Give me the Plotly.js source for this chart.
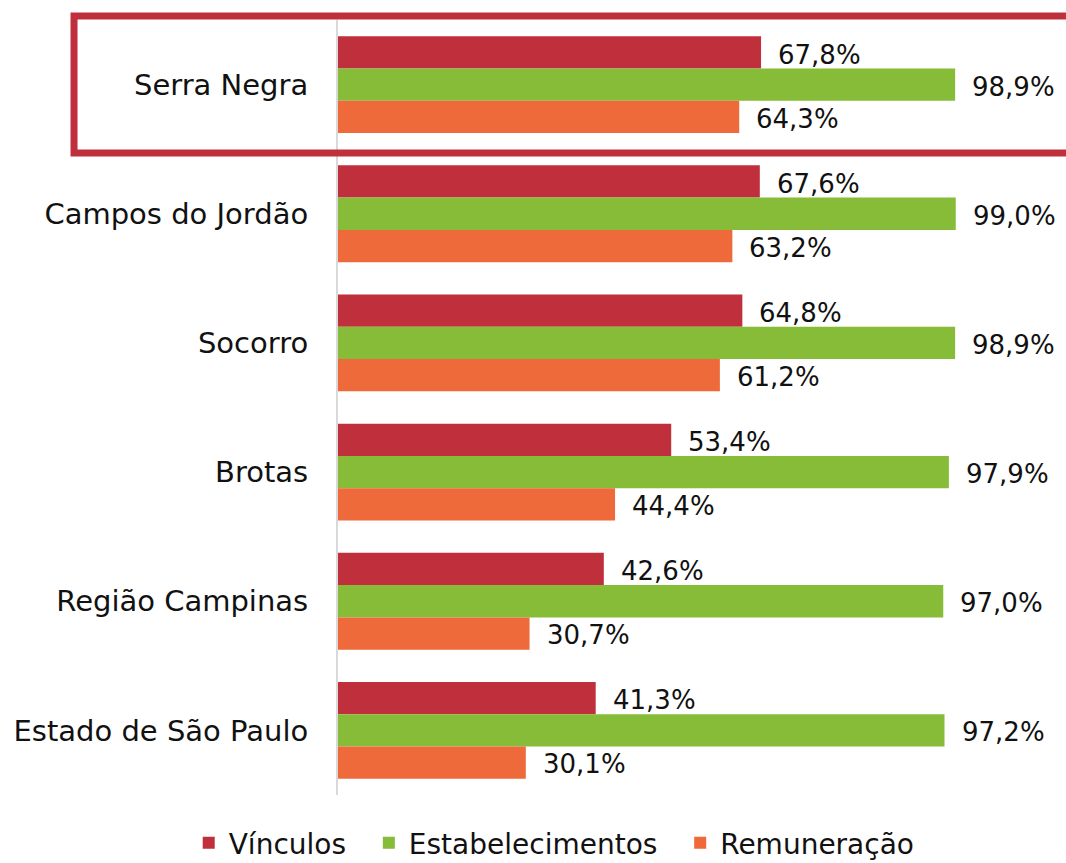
<!DOCTYPE html>
<html>
<head>
<meta charset="utf-8">
<script src="https://cdn.plot.ly/plotly-3.0.1.min.js"></script>
<style>html,body{margin:0;padding:0;background:#fff}#chart{width:1066px;height:863px}</style>
</head>
<body>
<div id="chart"></div>
<script>
const categories = ["Serra Negra", "Campos do Jordão", "Socorro", "Brotas", "Região Campinas", "Estado de São Paulo"];
const seriesNames = ["Vínculos", "Estabelecimentos", "Remuneração"];
const vinculos = [67.8, 67.6, 64.8, 53.4, 42.6, 41.3];
const estabelecimentos = [98.9, 99.0, 98.9, 97.9, 97.0, 97.2];
const remuneracao = [64.3, 63.2, 61.2, 44.4, 30.7, 30.1];
const colors = ["#C0303C", "#86BC37", "#EE6A3A"];

const FONT = "'DejaVu Sans', sans-serif";
const allSeries = [vinculos, estabelecimentos, remuneracao];
const pad = "\u00a0\u00a0";

const traces = allSeries.map((vals, i) => ({
  type: "bar",
  orientation: "h",
  name: seriesNames[i] + (i < allSeries.length - 1 ? pad : ""),
  y: categories,
  x: vals,
  marker: {color: colors[i]},
  hoverinfo: "skip"
}));

const fmt = v => v.toFixed(1).replace(".", ",") + "%";
const shifts = [30, -2, -34];
const annotations = [];
allSeries.forEach((vals, i) => {
  vals.forEach((v, j) => {
    annotations.push({
      x: v, y: categories[j], xref: "x", yref: "y",
      text: fmt(v), showarrow: false,
      xanchor: "left", yanchor: "middle",
      xshift: 15, yshift: shifts[i],
      font: {family: FONT, size: 26, color: "#111"}
    });
  });
});

const layout = {
  width: 1066, height: 863,
  margin: {l: 338, r: 0, t: 20, b: 68, autoexpand: false},
  paper_bgcolor: "#fff", plot_bgcolor: "#fff",
  barmode: "group",
  bargap: 0.25, bargroupgap: 0,
  font: {family: FONT, size: 28, color: "#111"},
  xaxis: {range: [0, 116.67], showgrid: false, zeroline: false, showticklabels: false, showline: false, fixedrange: true},
  yaxis: {autorange: "reversed", showline: true, linecolor: "#d9d9d9", linewidth: 2, ticks: "", ticklabelstandoff: 22,
          tickfont: {family: FONT, size: 29, color: "#111"}, showgrid: false, zeroline: false},
  showlegend: true,
  legend: {orientation: "h", x: 0.297, xanchor: "center", y: -0.062, yanchor: "middle",
           font: {family: FONT, size: 28, color: "#111"}, traceorder: "normal", itemwidth: 30},
  annotations: annotations,
  shapes: [{type: "rect", xref: "paper", yref: "paper", x0: -0.3626, x1: 1.03, y0: 0.8284, y1: 1.0052,
            line: {color: "#C0303C", width: 7}, fillcolor: "rgba(0,0,0,0)"}]
};

Plotly.newPlot("chart", traces, layout, {displayModeBar: false, staticPlot: true});
</script>
</body>
</html>
